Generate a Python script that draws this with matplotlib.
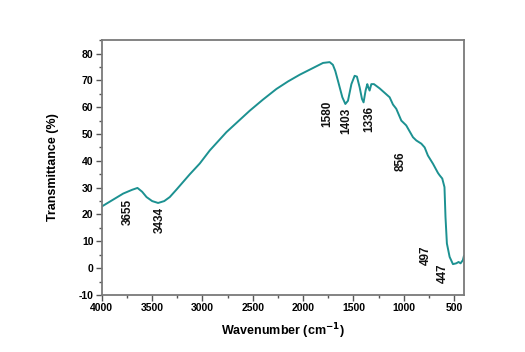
import matplotlib
matplotlib.use('Agg')
import matplotlib.pyplot as plt
from matplotlib.ticker import MultipleLocator

plt.rcParams['font.family'] = ['Liberation Sans', 'DejaVu Sans']
plt.rcParams['axes.unicode_minus'] = False

# FTIR spectrum, wavenumber (cm-1) vs transmittance (%)
wavenumber = [4000, 3788, 3700, 3646, 3600, 3556, 3500, 3441, 3380, 3325,
              3258, 3126, 3027, 2927, 2762, 2530, 2400, 2265, 2150, 2034,
              1902, 1802, 1736, 1704, 1680, 1654, 1610, 1580, 1554, 1520,
              1488, 1465, 1438, 1415, 1399, 1379, 1362, 1352, 1339, 1322,
              1296, 1239, 1140, 1107, 1074, 1024, 991, 975, 908, 875,
              825, 792, 760, 709, 660, 643, 617, 595, 585, 571,
              544, 511, 478, 455, 435, 412, 402]
transmittance = [23.0, 27.8, 29.2, 29.9, 28.5, 26.5, 25.0, 24.3, 25.0, 26.5,
                 29.3, 35.0, 39.0, 43.9, 50.7, 58.7, 62.8, 66.8, 69.6, 72.1,
                 74.6, 76.5, 76.8, 75.8, 73.5, 69.9, 63.7, 61.2, 62.4, 68.6,
                 71.7, 71.4, 67.4, 63.1, 61.8, 66.2, 68.6, 67.4, 66.2, 68.6,
                 68.6, 67.0, 63.7, 61.0, 59.4, 55.0, 53.8, 53.2, 48.8, 47.6,
                 46.4, 45.0, 42.0, 38.9, 35.5, 34.6, 33.4, 30.2, 19.1, 9.2,
                 4.2, 1.5, 1.8, 2.3, 1.8, 3.0, 4.5]

# peak annotations: (text, x, y) of the label centre
peak_labels = ['3655', '3434', '1580', '1403', '1336', '856', '497', '447']
label_x = [3745, 3424, 1759, 1570, 1346, 1034, 783, 611]
label_y = [20.9, 17.9, 57.5, 55.0, 55.6, 39.8, 4.9, -1.9]

fig = plt.figure(figsize=(5.25, 3.52), dpi=100)
ax = fig.add_axes([0.194, 0.162, 0.690, 0.724])

ax.plot(wavenumber, transmittance, color='#1c9191', linewidth=1.4)

for txt, x, y in zip(peak_labels, label_x, label_y):
    ax.text(x, y, txt, rotation=90, ha='center', va='center',
            fontsize=8.5, fontweight='bold', color='#111111')

ax.set_xlim(4000, 400)
ax.set_ylim(-10, 85)
ax.xaxis.set_major_locator(MultipleLocator(500))
ax.xaxis.set_minor_locator(MultipleLocator(250))
ax.yaxis.set_major_locator(MultipleLocator(10))
ax.yaxis.set_minor_locator(MultipleLocator(5))
ax.tick_params(which='major', direction='out', length=4, width=1,
               color='#555555', labelsize=7.5, pad=2)
ax.tick_params(which='minor', direction='out', length=2.5, width=1,
               color='#555555')
for lbl in ax.get_xticklabels() + ax.get_yticklabels():
    lbl.set_fontweight('bold')

for sp in ax.spines.values():
    sp.set_color('#7a7a7a')
    sp.set_linewidth(1.3)

ax.set_xlabel('Wavenumber (cm$^{\\mathbf{-1}}$)', fontsize=9, fontweight='bold',
              labelpad=6)
ax.set_ylabel('Transmittance (%)', fontsize=9, fontweight='bold', labelpad=14)

plt.savefig('out.png', dpi=100)
plt.close()
